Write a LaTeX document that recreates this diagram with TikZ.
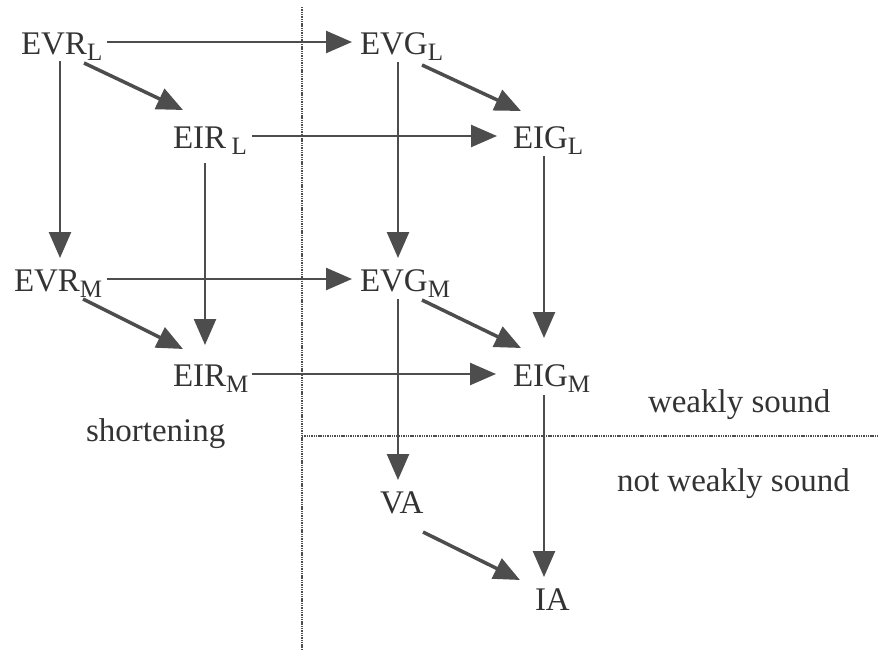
\documentclass[tikz,border=0pt]{standalone}
\usepackage{fontspec}
\setmainfont{Liberation Serif}
\usetikzlibrary{arrows.meta,calc}
\definecolor{ink}{HTML}{333333}
\definecolor{linec}{HTML}{4D4D4D}
\newcommand\mysub[1]{\raisebox{-6pt}{\fontsize{25}{25}\selectfont #1}}
\begin{document}
\begin{tikzpicture}[x=1pt,y=-1pt,
  lbl/.style={anchor=base west,inner sep=0pt,outer sep=0pt,text depth=0pt,text=ink,font=\fontsize{33}{38}\selectfont},
  arr/.style={draw=linec,line width=2.5pt,-{Triangle[length=26pt,width=22pt,fill=linec]}},
  darr/.style={arr,line width=3.5pt},
  sep/.style={draw=linec,line width=2pt,dash pattern=on 1.4pt off 0.9pt}]
\useasboundingbox (0,0) rectangle (878,653);
% nodes
\node[lbl] (EVRL) at (21,54) {EVR\mysub{L}};
\node[lbl] (EVGL) at (360,54) {EVG\mysub{L}};
\node[lbl] (EIRL) at (173,148) {EIR\,\mysub{L}};
\node[lbl] (EIGL) at (513,148) {EIG\mysub{L}};
\node[lbl] (EVRM) at (14,291) {EVR\mysub{M}};
\node[lbl] (EVGM) at (360,291) {EVG\mysub{M}};
\node[lbl] (EIRM) at (173,386) {EIR\mysub{M}};
\node[lbl] (EIGM) at (513,386) {EIG\mysub{M}};
\node[lbl] (VA) at (380,513) {VA};
\node[lbl] (IA) at (535,610) {IA};
\node[lbl] (short) at (86,441) {shortening};
\node[lbl] (ws) at (648,412) {weakly sound};
\node[lbl] (nws) at (617,491) {not weakly sound};
% separators
\coordinate (vtop) at (302,7);
\coordinate (vbot) at (302,650);
\coordinate (hleft) at (302,436);
\coordinate (hright) at (878,436);
\draw[sep] (vtop) -- (vbot);
\draw[sep] (hleft) -- (hright);
% arrows
\draw[arr] ($(EVRL.south west)+(86,-12)$) -- ($(EVGL.south west)+(-8,-12)$);
\draw[darr] ($(EVRL.south west)+(63,9)$) -- ($(EIRL.south west)+(10,-38)$);
\draw[arr] ($(EVRL.south west)+(39,7)$) -- ($(EVRM.south west)+(46,-33)$);
\draw[darr] ($(EVGL.south west)+(62,11)$) -- ($(EIGL.south west)+(8,-37)$);
\draw[arr] ($(EVGL.south west)+(38,8)$) -- ($(EVGM.south west)+(38,-33)$);
\draw[arr] ($(EIRL.south west)+(79,-12)$) -- ($(EIGL.south west)+(-16,-12)$);
\draw[arr] ($(EIRL.south west)+(32,15)$) -- ($(EIRM.south west)+(32,-41)$);
\draw[arr] ($(EIGL.south west)+(31,8)$) -- ($(EIGM.south west)+(31,-48)$);
\draw[arr] ($(EVRM.south west)+(93,-12)$) -- ($(EVGM.south west)+(-8,-12)$);
\draw[darr] ($(EVRM.south west)+(69,8)$) -- ($(EIRM.south west)+(10,-37)$);
\draw[darr] ($(EVGM.south west)+(62,9)$) -- ($(EIGM.south west)+(8,-38)$);
\draw[arr] ($(EVGM.south west)+(38,8)$) -- ($(VA.south west)+(18,-33)$);
\draw[arr] ($(EIRM.south west)+(79,-12)$) -- ($(EIGM.south west)+(-17,-12)$);
\draw[arr] ($(EIGM.south west)+(31,9)$) -- ($(IA.south west)+(9,-33)$);
\draw[darr] ($(VA.south west)+(43,19)$) -- ($(IA.south west)+(-15,-30)$);
\end{tikzpicture}
\end{document}
